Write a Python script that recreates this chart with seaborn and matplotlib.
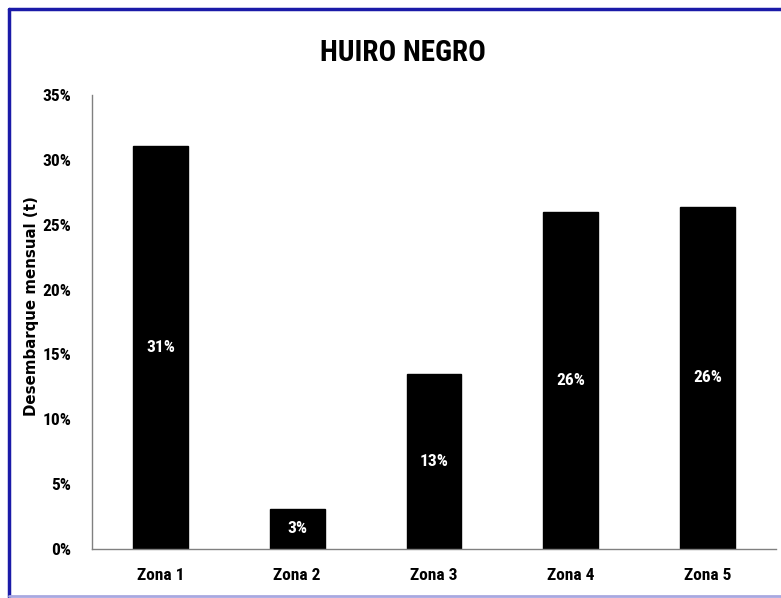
import matplotlib
matplotlib.use("Agg")
import matplotlib.pyplot as plt
import seaborn as sns
import pandas as pd
from matplotlib.lines import Line2D
from matplotlib.ticker import PercentFormatter
from matplotlib import font_manager as fm

zonas = ["Zona 1", "Zona 2", "Zona 3", "Zona 4", "Zona 5"]
valores = [0.311, 0.031, 0.135, 0.260, 0.264]
etiquetas = ["31%", "3%", "13%", "26%", "26%"]

sns.set_theme(style="white")
names = sorted({f.name for f in fm.fontManager.ttflist})
narrow = [n for n in ["Liberation Sans Narrow", "Roboto Condensed", "DejaVu Sans Condensed",
                      "Open Sans Condensed"] if n in names]
fam = narrow + ['Liberation Sans', 'DejaVu Sans']
plt.rcParams['font.family'] = fam
plt.rcParams['font.stretch'] = 'condensed'
plt.rcParams['text.color'] = 'black'

df = pd.DataFrame({"zona": zonas, "valor": valores})

fig = plt.figure(figsize=(7.81, 5.98), dpi=100)
ax = fig.add_axes([92/781, 1-549/598, (776-92)/781, (549-95)/598])
sns.barplot(data=df, x="zona", y="valor", color="black", width=0.4, ax=ax,
            edgecolor="black", saturation=1)

ax.set_ylim(0, 0.35)
ax.set_yticks([0, 0.05, 0.10, 0.15, 0.20, 0.25, 0.30, 0.35])
ax.yaxis.set_major_formatter(PercentFormatter(1.0, decimals=0))
ax.tick_params(axis='both', length=0, labelsize=12.5, colors="black")
ax.tick_params(axis='y', pad=15)
ax.tick_params(axis='x', pad=14)
for lab in ax.get_xticklabels() + ax.get_yticklabels():
    lab.set_fontweight("bold")
ax.set_xlabel("")
ax.set_ylabel("Desembarque mensual (t)", fontsize=10.8, fontweight="bold",
              family=['DejaVu Sans'], fontstretch='normal', color="black")
ax.yaxis.set_label_coords(-0.077, 0.535)

for s in ["top", "right"]:
    ax.spines[s].set_visible(False)
for s in ["left", "bottom"]:
    ax.spines[s].set_color("#808080")
    ax.spines[s].set_linewidth(1)

for p, lab in zip(ax.patches, etiquetas):
    ax.text(p.get_x() + p.get_width()/2, p.get_height()/2, lab, color="white",
            ha="center", va="center", fontsize=12.5, fontweight="bold")

fig.text(403/781, 1-53/598, "HUIRO NEGRO", ha="center", va="center",
         fontsize=21, fontweight="bold", color="black")

# frame border
fig.add_artist(Line2D([9/781, 9/781], [1-597/598, 1-9/598], transform=fig.transFigure,
                      color="#1a1aa8", lw=2.5))
fig.add_artist(Line2D([9/781, 1], [1-9/598, 1-9/598], transform=fig.transFigure,
                      color="#1a1aa8", lw=2.5))
fig.add_artist(Line2D([9/781, 1], [1-596/598, 1-596/598], transform=fig.transFigure,
                      color="#a8a8e0", lw=2))

fig.savefig("out.png", dpi=100)
